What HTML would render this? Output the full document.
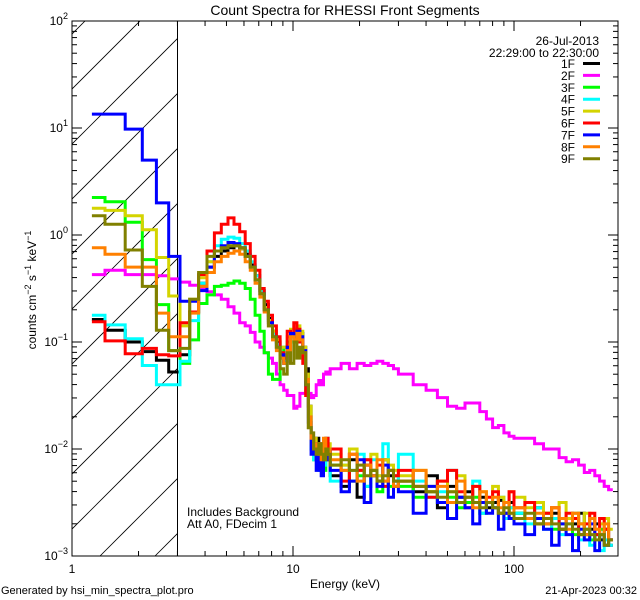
<!DOCTYPE html>
<html><head><meta charset="utf-8"><title>Count Spectra for RHESSI Front Segments</title>
<style>
html,body{margin:0;padding:0;background:#fff;}
svg{display:block;font-family:"Liberation Sans",sans-serif;}
</style></head>
<body>
<svg id="chart" width="640" height="600" viewBox="0 0 640 600" xmlns="http://www.w3.org/2000/svg">
<defs><clipPath id="plotclip"><rect x="72" y="21" width="546" height="535"/></clipPath></defs>
<rect x="0" y="0" width="640" height="600" fill="#fff"/>
<text x="345" y="15" font-size="14" text-anchor="middle">Count Spectra for RHESSI Front Segments</text>
<g id="hatch" clip-path="url(#plotclip)"></g>
<line x1="177.5" y1="21" x2="177.5" y2="556" stroke="#000" stroke-width="1"/>
<g id="series" clip-path="url(#plotclip)"></g>
<rect x="72" y="21" width="546" height="535" fill="none" stroke="#000" stroke-width="1"/>
<g id="axes"></g>
<text x="345" y="588" font-size="12" text-anchor="middle">Energy (keV)</text>
<text transform="translate(36,290) rotate(-90)" font-size="12" text-anchor="middle">counts cm<tspan dy="-5" font-size="9">−2</tspan><tspan dy="5"> s</tspan><tspan dy="-5" font-size="9">−1</tspan><tspan dy="5"> keV</tspan><tspan dy="-5" font-size="9">−1</tspan></text>
<text x="187" y="516" font-size="12">Includes Background</text>
<text x="187" y="528" font-size="12">Att A0, FDecim 1</text>
<text x="599" y="45" font-size="12" text-anchor="end">26-Jul-2013</text>
<text x="599" y="57" font-size="12" text-anchor="end">22:29:00 to 22:30:00</text>
<g id="legend"></g>
<text x="1" y="594" font-size="11">Generated by hsi_min_spectra_plot.pro</text>
<text x="637" y="594" font-size="11" text-anchor="end">21-Apr-2023 00:32</text>
</svg>
<script>
// Energy bin edges (keV)
const binEdges = [1.23];
for (let k = 0; k <= 40; k++) binEdges.push(+(1.41 + k / 3).toFixed(2));
const highEdges = [16.5,18,19.5,21,22.5,24,25.5,27,28.5,30,35,40,45,50,55,60,65,70,75,80,85,90,95,100,112,124,136,148,160,172,184,196,208,220,232,244,256,268,280];
binEdges.push(...highEdges);

const segments = ["1F","2F","3F","4F","5F","6F","7F","8F","9F"];
const segColors = ["#000000","#ff00ff","#00ff00","#00ffff","#d4d400","#ff0000","#0000ff","#ff8000","#808000"];

// log10(counts cm^-2 s^-1 keV^-1) per energy bin
const log1F = [-0.79,-0.89,-1.0,-1.09,-1.17,-1.28,
 -1.12,-0.72,-0.45,-0.3,-0.2,-0.15,-0.12,-0.1,-0.13,-0.18,-0.28,-0.38,-0.52,-0.65,-0.78,-0.9,-1.0,-1.12,-1.18,-1.1,-0.92,-0.95,-0.88,-0.92,-1.05,-1.25,-1.6,
 -1.95,-2.05,-1.9,-2.1,-2.0,-1.95,-2.05,-2.0,
 -2.25,-2.35,-2.1,-2.45,-2.15,-2.2,-2.3,-2.1,-2.25,-2.35,
 -2.3,-2.4,-2.25,-2.55,-2.35,-2.45,-2.4,-2.5,-2.45,-2.55,-2.5,-2.48,-2.6,-2.5,
 -2.6,-2.65,-2.55,-2.7,-2.6,-2.75,-2.65,-2.7,-2.6,-2.8,-2.75,-2.7,-2.85,-2.75,-2.9];
const log2F = [-0.37,-0.33,-0.37,-0.37,-0.38,-0.41,
 -0.44,-0.47,-0.5,-0.53,-0.56,-0.6,-0.67,-0.73,-0.82,-0.85,-0.91,-1.0,-1.05,-1.1,-1.15,-1.2,-1.3,-1.4,-1.45,-1.5,-1.5,-1.62,-1.6,-1.48,-1.48,-1.46,-1.48,
 -1.52,-1.5,-1.4,-1.36,-1.4,-1.3,-1.28,-1.3,
 -1.25,-1.2,-1.25,-1.2,-1.22,-1.2,-1.18,-1.2,-1.22,-1.25,
 -1.3,-1.4,-1.45,-1.52,-1.6,-1.62,-1.57,-1.57,-1.65,-1.72,-1.8,-1.78,-1.85,-1.88,
 -1.9,-1.9,-1.95,-2.0,-2.0,-2.08,-2.12,-2.1,-2.15,-2.22,-2.2,-2.25,-2.3,-2.35,-2.38];
const log3F = [0.35,0.31,0.12,-0.23,-0.65,-1.08,
 -1.2,-0.98,-0.64,-0.56,-0.48,-0.47,-0.45,-0.43,-0.45,-0.5,-0.6,-0.75,-0.9,-1.1,-1.3,-1.35,-1.35,-1.15,-1.05,-1.0,-0.95,-1.0,-0.92,-1.0,-1.15,-1.45,-1.8,
 -2.0,-2.1,-2.05,-2.15,-2.0,-2.2,-2.1,-2.05,
 -2.15,-2.2,-2.3,-2.25,-2.35,-2.2,-2.4,-2.3,-2.35,-2.25,
 -2.35,-2.45,-2.4,-2.5,-2.45,-2.55,-2.5,-2.45,-2.6,-2.5,-2.55,-2.6,-2.65,-2.55,
 -2.6,-2.65,-2.7,-2.6,-2.75,-2.7,-2.65,-2.8,-2.7,-2.75,-2.85,-2.8,-2.75,-2.9,-2.85];
const log4F = [-0.75,-0.84,-0.97,-1.22,-1.4,-1.4,
 -1.18,-0.8,-0.45,-0.25,-0.1,-0.04,-0.02,-0.03,-0.08,-0.15,-0.25,-0.38,-0.52,-0.68,-0.8,-0.92,-1.02,-1.12,-1.18,-1.08,-0.95,-0.98,-0.9,-0.95,-1.1,-1.35,-1.7,
 -2.0,-2.1,-1.95,-2.2,-2.05,-2.15,-1.9,-2.1,
 -2.3,-2.15,-2.2,-2.05,-2.35,-2.1,-2.25,-1.95,-2.2,-2.3,
 -2.05,-2.3,-2.45,-2.4,-2.2,-2.5,-2.45,-2.3,-2.6,-2.5,-2.55,-2.45,-2.65,-2.55,
 -2.6,-2.7,-2.55,-2.75,-2.65,-2.8,-2.7,-2.6,-2.85,-2.75,-2.9,-2.8,-2.95,-2.85,-2.9];
const log5F = [0.25,0.23,0.18,0.05,-0.21,-0.57,
 -0.85,-0.6,-0.4,-0.25,-0.15,-0.12,-0.1,-0.1,-0.13,-0.2,-0.3,-0.42,-0.55,-0.68,-0.8,-0.9,-0.98,-1.05,-1.05,-0.95,-0.88,-0.9,-0.85,-0.9,-1.05,-1.3,-1.6,
 -1.95,-1.9,-2.0,-2.05,-1.95,-2.1,-2.0,-1.95,
 -2.05,-2.15,-2.0,-2.2,-2.1,-2.05,-2.25,-2.1,-2.15,-2.2,
 -2.25,-2.2,-2.35,-2.3,-2.4,-2.25,-2.45,-2.35,-2.4,-2.5,-2.35,-2.45,-2.5,-2.4,
 -2.45,-2.55,-2.5,-2.6,-2.55,-2.5,-2.65,-2.6,-2.7,-2.6,-2.65,-2.75,-2.7,-2.65,-2.75];
const log6F = [-0.81,-0.99,-1.11,-1.06,-1.12,-1.13,
 -0.82,-0.72,-0.37,-0.15,0.02,0.10,0.16,0.10,0.03,-0.08,-0.2,-0.33,-0.5,-0.62,-0.75,-0.85,-0.95,-1.1,-1.15,-0.9,-0.92,-0.82,-0.88,-1.0,-1.2,-1.5,-1.8,
 -1.9,-2.0,-2.1,-1.95,-2.15,-2.0,-1.9,-2.1,
 -2.0,-2.3,-2.05,-2.2,-2.1,-2.25,-2.15,-2.35,-2.2,-2.25,
 -2.2,-2.35,-2.45,-2.3,-2.2,-2.4,-2.55,-2.35,-2.5,-2.45,-2.4,-2.6,-2.5,-2.4,
 -2.55,-2.5,-2.7,-2.6,-2.55,-2.75,-2.6,-2.65,-2.8,-2.7,-2.6,-2.8,-2.65,-2.75,-2.85];
const log7F = [1.13,1.13,0.99,0.70,0.30,-0.2,
 -0.62,-0.62,-0.52,-0.3,-0.15,-0.1,-0.07,-0.08,-0.12,-0.2,-0.3,-0.42,-0.55,-0.7,-0.82,-0.95,-1.05,-1.12,-1.2,-1.05,-0.92,-0.95,-0.9,-0.95,-1.08,-1.4,-1.75,
 -2.05,-1.95,-2.2,-2.0,-2.25,-2.05,-2.1,-2.0,
 -2.2,-2.4,-2.3,-2.1,-2.5,-2.25,-2.35,-2.15,-2.45,-2.3,
 -2.4,-2.6,-2.35,-2.5,-2.65,-2.45,-2.55,-2.7,-2.5,-2.6,-2.55,-2.75,-2.6,-2.65,
 -2.7,-2.8,-2.65,-2.75,-2.9,-2.7,-2.8,-2.95,-2.75,-2.85,-2.7,-2.95,-2.8,-2.9,-2.85];
const log8F = [-0.12,-0.18,-0.30,-0.30,-0.73,-0.95,
 -0.95,-0.73,-0.48,-0.35,-0.25,-0.2,-0.17,-0.15,-0.18,-0.25,-0.33,-0.45,-0.58,-0.72,-0.85,-0.98,-1.08,-1.15,-1.2,-1.08,-0.95,-0.98,-0.92,-0.98,-1.1,-1.35,-1.7,
 -1.9,-2.0,-1.95,-2.05,-2.1,-1.9,-2.05,-2.0,
 -2.1,-2.2,-2.05,-2.3,-2.15,-2.25,-2.1,-2.3,-2.2,-2.35,
 -2.3,-2.2,-2.4,-2.35,-2.5,-2.3,-2.45,-2.55,-2.4,-2.5,-2.45,-2.55,-2.5,-2.6,
 -2.55,-2.65,-2.6,-2.7,-2.55,-2.65,-2.75,-2.6,-2.7,-2.8,-2.65,-2.75,-2.8,-2.7,-2.85];
const log9F = [0.18,0.10,-0.14,-0.48,-0.89,-1.08,
 -1.06,-0.6,-0.35,-0.2,-0.15,-0.12,-0.1,-0.1,-0.12,-0.2,-0.3,-0.42,-0.55,-0.7,-0.85,-0.95,-1.05,-1.25,-1.3,-1.1,-1.2,-1.0,-1.15,-1.05,-1.1,-1.4,-1.8,
 -1.85,-2.0,-2.05,-1.95,-2.05,-2.1,-2.0,-2.05,
 -2.15,-2.1,-2.2,-2.15,-2.25,-2.2,-2.3,-2.25,-2.2,-2.3,
 -2.3,-2.35,-2.4,-2.45,-2.4,-2.5,-2.45,-2.5,-2.55,-2.5,-2.55,-2.6,-2.55,-2.6,
 -2.65,-2.6,-2.7,-2.65,-2.7,-2.75,-2.7,-2.75,-2.8,-2.75,-2.8,-2.85,-2.8,-2.9,-2.85];
const seriesLogs = [log1F,log2F,log3F,log4F,log5F,log6F,log7F,log8F,log9F];

const yTickExps = [-3,-2,-1,0,1,2];
const xTickValues = [1,10,100];
const xTickLabels = ["1","10","100"];

const NS = "http://www.w3.org/2000/svg";
const X0 = 72, X1 = 618, Y0 = 21, Y1 = 556;
const XDEC = 221, YDEC = (Y1 - Y0) / 5;
function xScale(e){ return X0 + XDEC * Math.log10(e); }
function yScale(l){ return Y0 + (2 - l) * YDEC; }
function mk(tag, attrs, parent){ const el = document.createElementNS(NS, tag); for (const k in attrs) el.setAttribute(k, attrs[k]); parent.appendChild(el); return el; }

// hatch
const hatch = document.getElementById('hatch');
for (let k = -12; k <= 3; k++) {
  const bx = 100 + 55 * k;
  const ln = mk('line', {x1: bx, y1: Y1, x2: bx + 600, y2: Y1 - 600, stroke: '#000', 'stroke-width': 0.8}, hatch);
  
  
}
const hatchClip = document.createElementNS(NS,'clipPath'); hatchClip.setAttribute('id','hclip');
mk('rect',{x:X0,y:Y0,width:177.5-X0,height:Y1-Y0},hatchClip);
document.querySelector('defs').appendChild(hatchClip);
hatch.setAttribute('clip-path','url(#hclip)');

// series
const sg = document.getElementById('series');
seriesLogs.forEach((vals, si) => {
  let d = '';
  for (let i = 0; i < vals.length; i++) {
    const xa = xScale(binEdges[i]), xb = xScale(binEdges[i + 1]), y = yScale(vals[i]);
    d += (i === 0 ? 'M' : 'L') + xa.toFixed(1) + ',' + y.toFixed(1) + 'L' + xb.toFixed(1) + ',' + y.toFixed(1);
  }
  const p = mk('path', {d: d, fill: 'none', stroke: segColors[si], 'stroke-width': 3, 'stroke-linejoin': 'miter'}, sg);
  
  
});

// axes ticks
const ax = document.getElementById('axes');
yTickExps.forEach((ex) => {
  const y = yScale(ex);
  [[X0, X0 + 10], [X1 - 10, X1]].forEach(([a, b]) => mk('line', {x1: a, y1: y, x2: b, y2: y, stroke: '#000'}, ax));
  const t = mk('text', {x: 68, y: y + 4, 'font-size': 12, 'text-anchor': 'end'}, ax);
  
  
  t.innerHTML = '10<tspan dy="-6" font-size="9">' + (ex < 0 ? '−' + (-ex) : ex) + '</tspan>';
  if (ex < 2) for (let m = 2; m <= 9; m++) {
    const ym = yScale(ex + Math.log10(m));
    mk('line', {x1: X0, y1: ym, x2: X0 + 5, y2: ym, stroke: '#000'}, ax);
    mk('line', {x1: X1 - 5, y1: ym, x2: X1, y2: ym, stroke: '#000'}, ax);
  }
});
xTickValues.forEach((v, i) => {
  const x = xScale(v);
  mk('line', {x1: x, y1: Y1, x2: x, y2: Y1 - 10, stroke: '#000'}, ax);
  mk('line', {x1: x, y1: Y0, x2: x, y2: Y0 + 10, stroke: '#000'}, ax);
  const t = mk('text', {x: x, y: Y1 + 17, 'font-size': 12, 'text-anchor': 'middle'}, ax);
  
  
  t.textContent = xTickLabels[i];
  for (let m = 2; m <= 9; m++) {
    const xm = xScale(v * m);
    if (xm > X1) break;
    mk('line', {x1: xm, y1: Y1, x2: xm, y2: Y1 - 5, stroke: '#000'}, ax);
    mk('line', {x1: xm, y1: Y0, x2: xm, y2: Y0 + 5, stroke: '#000'}, ax);
  }
});

// legend
const lg = document.getElementById('legend');
segments.forEach((s, i) => {
  const y = 63.5 + i * 11.9;
  const g = mk('g', {}, lg);
  
  
  const t = mk('text', {x: 575, y: y + 4.5, 'font-size': 12, 'text-anchor': 'end'}, g);
  t.textContent = s;
  mk('line', {x1: 583, y1: y, x2: 600, y2: y, stroke: segColors[i], 'stroke-width': 3}, g);
});
</script>
</body></html>
